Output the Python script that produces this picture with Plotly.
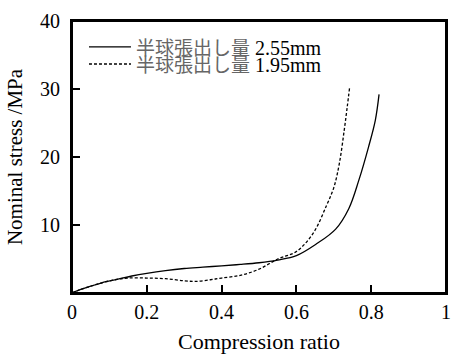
import plotly.graph_objects as go

# Data
solid_label = "<span style='font-size:19px;color:#666'>半球張出し量</span> 2.55mm"
solid_x = [0, 0.02, 0.05, 0.08, 0.12, 0.16, 0.2, 0.25, 0.3, 0.35, 0.4, 0.45, 0.5,
           0.55, 0.6, 0.653, 0.705, 0.74, 0.767, 0.793, 0.811, 0.821]
solid_y = [0, 0.45, 1.0, 1.5, 2.0, 2.5, 2.9, 3.3, 3.6, 3.8, 4.0, 4.2, 4.45,
           4.85, 5.5, 7.2, 9.4, 12.4, 16.6, 21.5, 25.4, 29.2]

dash_label = "<span style='font-size:19px;color:#666'>半球張出し量</span> 1.95mm"
dash_x = [0, 0.02, 0.05, 0.08, 0.12, 0.15, 0.2, 0.25, 0.3, 0.33, 0.37, 0.4, 0.45,
          0.5, 0.55, 0.6, 0.645, 0.68, 0.7, 0.715, 0.728, 0.736, 0.742]
dash_y = [0, 0.45, 1.0, 1.5, 2.0, 2.2, 2.2, 2.1, 1.8, 1.7, 1.95, 2.2, 2.6,
          3.5, 5.0, 6.1, 8.8, 12.8, 15.5, 19.1, 24.0, 27.4, 30.1]

x_ticks = [0, 0.2, 0.4, 0.6, 0.8, 1]
x_ticktext = ["0", "0.2", "0.4", "0.6", "0.8", "1"]
y_ticks = [10, 20, 30, 40]
y_ticktext = ["10", "20", "30", "40"]

x_title = "Compression ratio"
y_title = "Nominal stress /MPa"

FONT = "'Liberation Serif', 'Times New Roman', 'Noto Sans CJK JP', serif"

fig = go.Figure()
fig.add_trace(go.Scatter(x=solid_x, y=solid_y, mode="lines", name=solid_label,
                         legend="legend",
                         line=dict(color="black", width=1.3, shape="spline", smoothing=1.0)))
fig.add_trace(go.Scatter(x=dash_x, y=dash_y, mode="lines", name=dash_label,
                         legend="legend2",
                         line=dict(color="black", width=1.3, dash="3px,2px", shape="spline", smoothing=1.0)))

legend_common = dict(xanchor="left", yanchor="middle", bgcolor="rgba(0,0,0,0)", borderwidth=0,
                     font=dict(family=FONT, size=20, color="black"), itemwidth=42)

fig.update_layout(
    width=454, height=357,
    margin=dict(l=72, r=8, t=21, b=64),
    paper_bgcolor="white", plot_bgcolor="white",
    font=dict(family=FONT, color="black", size=20),
    showlegend=True,
    legend=dict(x=0.032, y=0.905, **legend_common),
    legend2=dict(x=0.032, y=0.842, **legend_common),
    xaxis=dict(range=[0, 1], tickvals=x_ticks, ticktext=x_ticktext,
               ticks="inside", ticklen=8, tickwidth=2, tickcolor="black",
               showline=True, linecolor="black", linewidth=2, mirror=True,
               showgrid=False, zeroline=False, automargin=False,
               title=dict(text=x_title, font=dict(size=22), standoff=12)),
    yaxis=dict(range=[0, 40], tickvals=y_ticks, ticktext=y_ticktext,
               ticks="inside", ticklen=8, tickwidth=2, tickcolor="black",
               showline=True, linecolor="black", linewidth=2, mirror=True,
               showgrid=False, zeroline=False, automargin=False, ticklabelstandoff=6,
               title=dict(text=y_title, font=dict(size=21), standoff=12)),
    shapes=[dict(type="rect", xref="paper", yref="paper", x0=0, x1=1, y0=0, y1=1,
                 line=dict(color="black", width=2), layer="above")],
)

# Remove the browser's default page margin so the figure sits at the window's corner
fig.write_html("out.html", config={"displayModeBar": False},
               post_script="document.body.style.margin='0';document.body.style.overflow='hidden';")
